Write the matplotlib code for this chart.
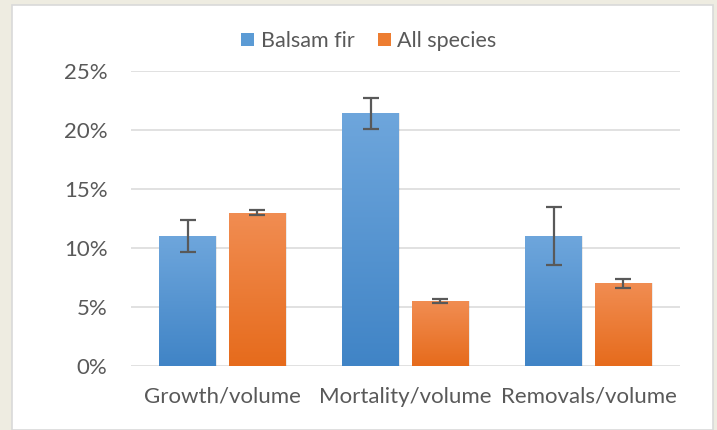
import matplotlib
matplotlib.use("Agg")
import matplotlib.pyplot as plt
import numpy as np
from matplotlib.patches import Rectangle
from matplotlib.colors import LinearSegmentedColormap
from matplotlib.ticker import PercentFormatter

categories = ["Growth/volume", "Mortality/volume", "Removals/volume"]
series_names = ["Balsam fir", "All species"]
balsam = [11.0, 21.4, 11.0]
balsam_err = [1.35, 1.35, 2.45]
allsp = [13.0, 5.5, 7.0]
allsp_err = [0.2, 0.15, 0.4]
yticks = [0, 5, 10, 15, 20, 25]

plt.rcParams['font.family'] = ['Lato', 'DejaVu Sans']
txt = '#595959'

fig = plt.figure(figsize=(7.17, 4.30), dpi=100)
fig.patch.set_facecolor('#EEECE1')
panel = Rectangle((12/717, 0), 701/717, 1 - 5/430, transform=fig.transFigure,
                  facecolor='white', edgecolor='#D9D9D9', linewidth=1.2, zorder=-10)
fig.patches.append(panel)

ax = fig.add_axes([131/717, 1 - 366/430, 549/717, (366-71)/430])
ax.set_facecolor('none')
x = np.arange(len(categories))
w = 0.31
off = 0.19

cm_blue = LinearSegmentedColormap.from_list('b', ['#4084C6', '#6EA6DC'])
cm_or = LinearSegmentedColormap.from_list('o', ['#E66B1C', '#F18D52'])

grad = np.linspace(0, 1, 256).reshape(-1, 1)

def draw(xs, vals, errs, cmap, base, label):
    bars = ax.bar(xs, vals, w, color=base, label=label, zorder=2)
    for b in bars:
        sh = Rectangle((b.get_x() + 0.006, 0), b.get_width(), b.get_height(),
                       facecolor='#000000', alpha=0.08, zorder=1.9, linewidth=0)
        ax.add_patch(sh)
        im = ax.imshow(grad, cmap=cmap, origin='lower', aspect='auto',
                       extent=[b.get_x(), b.get_x() + b.get_width(), 0, b.get_height()],
                       zorder=2.1)
        im.set_clip_path(b)
    ax.errorbar(xs, vals, yerr=errs, fmt='none', ecolor='#595959', elinewidth=1.6,
                capsize=6, capthick=1.6, zorder=3)

draw(x - off, balsam, balsam_err, cm_blue, '#5B9BD5', series_names[0])
draw(x + off, allsp, allsp_err, cm_or, '#ED7D31', series_names[1])

ax.set_xlim(-0.5, 2.5)
ax.set_ylim(0, 25)
ax.set_yticks(yticks)
ax.yaxis.set_major_formatter(PercentFormatter(decimals=0))
ax.set_xticks(x)
ax.set_xticklabels(categories)
ax.grid(axis='y', color='#D9D9D9', linewidth=1.1, zorder=0)
ax.set_axisbelow(True)
for s in ax.spines.values():
    s.set_visible(False)
ax.tick_params(axis='both', length=0, labelsize=16, labelcolor=txt)
ax.tick_params(axis='y', pad=17)
ax.tick_params(axis='x', pad=15)

leg = ax.legend(loc='center', bbox_to_anchor=(369/717, 1 - 41/430), bbox_transform=fig.transFigure,
                ncol=2, frameon=False, fontsize=15.5, handlelength=0.6, handleheight=0.6,
                columnspacing=1.1, handletextpad=0.3, labelcolor=txt,
                borderpad=0, borderaxespad=0)
fig.savefig('out.png', dpi=100, facecolor=fig.get_facecolor())
